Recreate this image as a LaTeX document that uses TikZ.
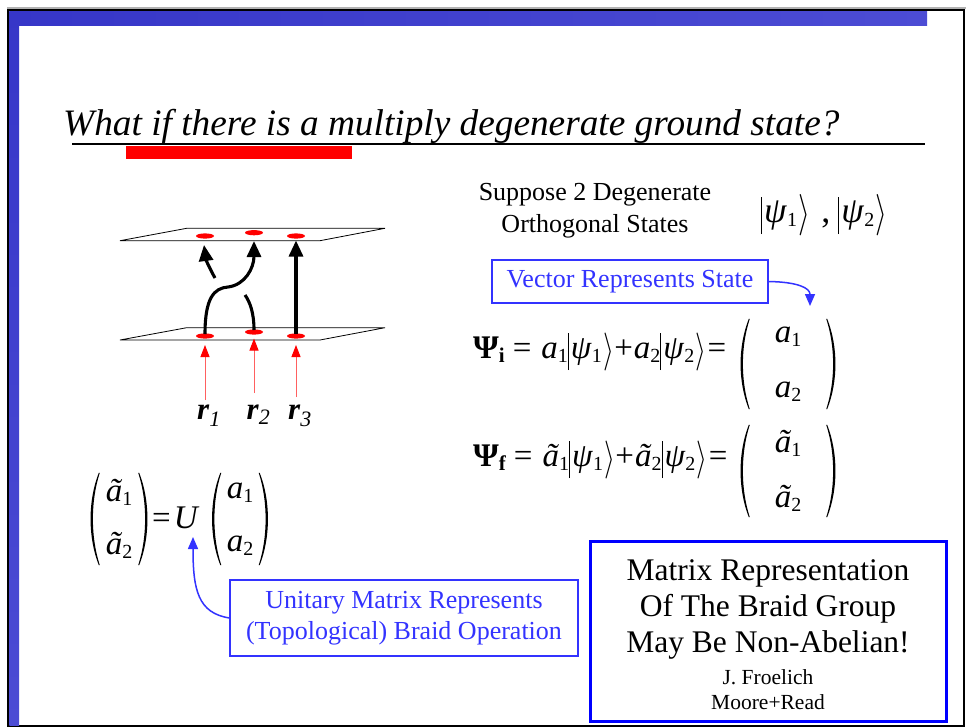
\RequirePackage{fix-cm}
\documentclass[tikz,border=0pt]{standalone}
\usepackage{fontspec}
\setmainfont{Liberation Serif}
\usepackage{graphicx}
\usetikzlibrary{arrows.meta}
\definecolor{barblue}{HTML}{3636C8}
\definecolor{barbluetwo}{HTML}{4C4CD4}
\definecolor{txtblue}{HTML}{3333FF}
\definecolor{boxblue}{HTML}{0000FF}
\definecolor{lred}{HTML}{FF6060}
\newcommand{\dn}[1]{\raisebox{-4pt}{\fontsize{20}{20}\selectfont\upshape #1}}
\newcommand{\kt}[1]{\raisebox{-12pt}{\rule{1pt}{37pt}}\kern2pt\textit{ψ}\dn{#1}\kern1.5pt\raisebox{-3pt}{\scalebox{0.85}[1.15]{$\rangle$}}}
\newcommand{\parens}[1]{%
 \fill ([xshift=11pt]#1.north west) .. controls ([yshift=-28pt]#1.north west) and ([yshift=28pt]#1.south west) .. ([xshift=11pt]#1.south west) -- ([xshift=12pt]#1.south west) .. controls ([xshift=2.8pt,yshift=28pt]#1.south west) and ([xshift=2.8pt,yshift=-28pt]#1.north west) .. ([xshift=12pt]#1.north west) -- cycle;
 \fill ([xshift=-11pt]#1.north east) .. controls ([yshift=-28pt]#1.north east) and ([yshift=28pt]#1.south east) .. ([xshift=-11pt]#1.south east) -- ([xshift=-12pt]#1.south east) .. controls ([xshift=-2.8pt,yshift=28pt]#1.south east) and ([xshift=-2.8pt,yshift=-28pt]#1.north east) .. ([xshift=-12pt]#1.north east) -- cycle;}
\begin{document}
\begin{tikzpicture}[x=1pt,y=-1pt,
  blk/.style={line width=3.1, -{Triangle[length=16pt,width=14pt]}},
  redarr/.style={draw=lred, line width=1, -{Triangle[length=12pt,width=9pt,color=red]}},
  bluearr/.style={draw=txtblue, line width=1.5, -{Triangle[length=12pt,width=10pt]}},
  plane/.style={draw, line width=0.8},
  dotred/.style={fill=red},
  bluetxt/.style={text=txtblue, font=\fontsize{26}{31}\selectfont},
  eqfont/.style={font=\fontsize{33}{35}\selectfont},
  matbox/.style={eqfont, align=center, inner sep=0},
  bigtxt/.style={font=\fontsize{31.5}{36}\selectfont, anchor=base, inner sep=0},
  smalltxt/.style={font=\fontsize{21.5}{25}\selectfont, anchor=base, inner sep=0}]
\useasboundingbox (0,0) rectangle (969,728);
\fill[white] (0,0) rectangle (969,728);
% frame and bars
\draw[black!30, line width=2] (7,8.3) -- (966,8.3);
\draw[line width=2.2] (8.2,10.2) rectangle (964,726.2);
\shade[left color=barblue, right color=barbluetwo] (9.3,11.2) rectangle (927,25);
\shade[top color=barblue, bottom color=barbluetwo] (9.3,11.2) rectangle (19,725);
% title
\node[anchor=base west, inner sep=0, font=\fontsize{37.3}{40}\selectfont\itshape] (title) at (63,135) {What if there is a multiply degenerate ground state?};
\draw[line width=1.8] (72,144) -- (925,144);
\fill[red] (125.5,146) rectangle (352,159);
% braid diagram
\draw[plane] (120,240.7) -- (320,240.7) -- (385,228.3) -- (186.7,228.3) -- cycle;
\draw[plane] (120,340) -- (320,340) -- (385,327.7) -- (186.7,327.7) -- cycle;
\fill[dotred] (205,236) ellipse [x radius=9, y radius=2.6];
\fill[dotred] (254,232.7) ellipse [x radius=9, y radius=2.6];
\fill[dotred] (296,236) ellipse [x radius=9, y radius=2.6];
\fill[dotred] (205,336) ellipse [x radius=9, y radius=2.6];
\fill[dotred] (254,332) ellipse [x radius=9, y radius=2.6];
\fill[dotred] (296,336) ellipse [x radius=9, y radius=2.6];
\draw[blk] (296,334) -- (296,240.5);
\draw[blk] (205,334) .. controls (205,298) and (214,288) .. (228,287) .. controls (245,285) and (254,268) .. (254,241);
\draw[line width=3.1] (254,330) .. controls (254,313) and (250,302) .. (245,295);
\draw[blk] (215,278) .. controls (210,269) and (206,260) .. (204,245);
\draw[redarr] (205,400) -- (205,345);
\draw[redarr] (254,393) -- (254,338.5);
\draw[redarr] (296,397) -- (296,345);
\node[anchor=base west, inner sep=0] (r1) at (197,419) {\fontsize{31}{31}\selectfont\bfseries\itshape r\raisebox{-7pt}{\fontsize{22}{22}\selectfont\mdseries 1}};
\node[anchor=base west, inner sep=0] (r2) at (246.5,419) {\fontsize{31}{31}\selectfont\bfseries\itshape r\raisebox{-5pt}{\fontsize{22}{22}\selectfont\mdseries 2}};
\node[anchor=base west, inner sep=0] (r3) at (288,419) {\fontsize{31}{31}\selectfont\bfseries\itshape r\raisebox{-7pt}{\fontsize{22}{22}\selectfont\mdseries 3}};
% suppose text
\node[anchor=base, inner sep=0, font=\fontsize{26}{31}\selectfont] (sup1) at (595,200) {Suppose 2 Degenerate};
\node[anchor=base, inner sep=0, font=\fontsize{26}{31}\selectfont] (sup2) at (595,232) {Orthogonal States};
\node[anchor=base west, inner sep=0, font=\fontsize{36}{38}\selectfont] (kets) at (761,222) {\kt{1}\hspace{11pt},\hspace{8pt}\kt{2}};
% vector box
\node[draw=txtblue, line width=1.2, bluetxt, minimum width=276, minimum height=43, inner sep=0] (vecbox) at (630,281.5) {Vector Represents State};
\coordinate (vtip) at (810,306);
\draw[bluearr] (vecbox.east) .. controls (798,282) and (810,288) .. (vtip);
% equations
\node[anchor=base west, inner sep=0, eqfont] (eqi) at (473,358) {\textbf{Ψ}\raisebox{-4pt}{\fontsize{21}{21}\selectfont\bfseries i}\hspace{8pt}=\hspace{10pt}\textit{a}\dn{1}\kt{1}+\kern1pt\textit{a}\dn{2}\kt{2}\kern1pt=};
\node[matbox, minimum width=100, minimum height=90] (mati) at (788,364) {\textit{a}\dn{1}\\[20pt]\textit{a}\dn{2}};
\parens{mati}
\node[anchor=base west, inner sep=0, eqfont] (eqf) at (473,466) {\textbf{Ψ}\raisebox{-4pt}{\fontsize{21}{21}\selectfont\bfseries f}\hspace{8pt}=\hspace{10pt}\textit{ã}\dn{1}\kt{1}+\kern1pt\textit{ã}\dn{2}\kt{2}\kern1pt=};
\node[matbox, minimum width=100, minimum height=92] (matf) at (788,471) {\textit{ã}\dn{1}\\[20pt]\textit{ã}\dn{2}};
\parens{matf}
% left equation
\node[matbox, minimum width=62, minimum height=92] (matl) at (119,519) {\textit{ã}\dn{1}\\[18pt]\textit{ã}\dn{2}};
\parens{matl}
\node[anchor=base west, inner sep=0, eqfont] (eqU) at (152,528) {=\hspace{3pt}\textit{U}};
\node[matbox, minimum width=61, minimum height=92] (matr) at (240,519) {\textit{a}\dn{1}\\[18pt]\textit{a}\dn{2}};
\parens{matr}
% unitary box
\node[draw=txtblue, line width=1.2, bluetxt, align=center, minimum width=348, minimum height=76, inner sep=0] (unibox) at (404,618) {Unitary Matrix Represents\\(Topological) Braid Operation};
\coordinate (utip) at (193,537);
\draw[bluearr] (unibox.west) .. controls (198,613) and (193,590) .. (utip);
% big box
\node[draw=boxblue, line width=3, minimum width=356, minimum height=180, inner sep=0] (bigbox) at (768,631) {};
\node[bigtxt] (b1) at (768,580) {Matrix Representation};
\node[bigtxt] (b2) at (768,616) {Of The Braid Group};
\node[bigtxt] (b3) at (768,652) {May Be Non-Abelian!};
\node[smalltxt] (b4) at (768,684) {J. Froelich};
\node[smalltxt] (b5) at (768,709) {Moore+Read};
\end{tikzpicture}
\end{document}
